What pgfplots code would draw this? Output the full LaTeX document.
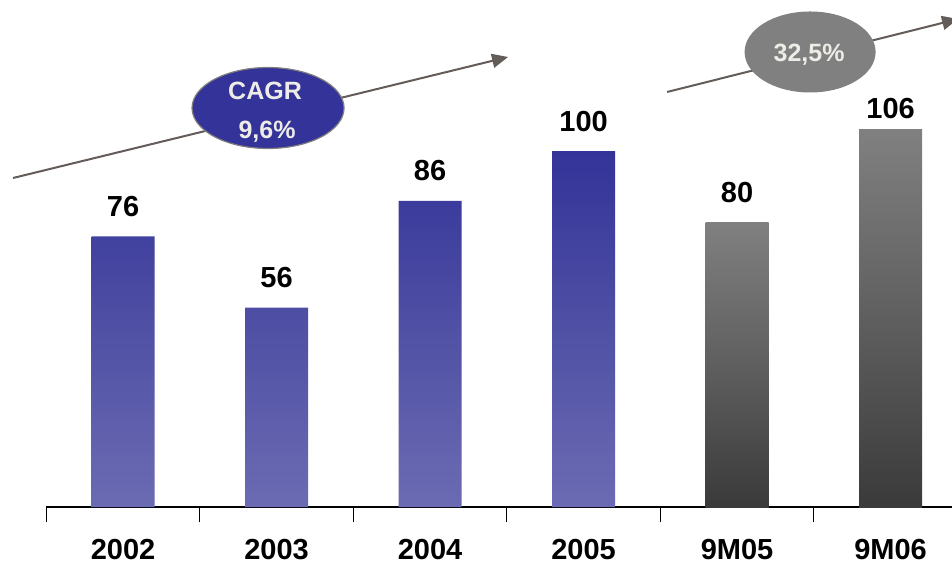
\documentclass[border=0pt]{standalone}
\usepackage{pgfplots}
\pgfplotsset{compat=1.18}
\usepackage{fontspec}
\setmainfont{Liberation Sans}
\usetikzlibrary{arrows.meta}
\definecolor{bluetop}{RGB}{51,51,153}
\definecolor{bluemid}{RGB}{80,80,165}
\definecolor{bluebot}{RGB}{107,107,179}
\definecolor{graytop}{RGB}{128,128,128}
\definecolor{graymid}{RGB}{95,95,95}
\definecolor{graybot}{RGB}{58,58,58}
\definecolor{arrowc}{RGB}{100,92,88}
\definecolor{ltxt}{RGB}{238,236,230}
\begin{document}
\begin{tikzpicture}
\begin{axis}[
  x=76.75pt, y=1.78pt,
  xmin=-0.5, xmax=5.4, ymin=0, ymax=142.42,
  axis x line=bottom, axis y line=none,
  axis line style={-, line width=1pt, black},
  xtick={-0.5,0.5,1.5,2.5,3.5,4.5},
  xticklabels={},
  tick align=outside,
  major tick length=7.5pt,
  every tick/.style={black, line width=0.6pt},
  extra x ticks={0,1,2,3,4,5},
  extra x tick labels={2002,2003,2004,2005,9M05,9M06},
  extra x tick style={major tick length=0pt, xticklabel style={anchor=base, yshift=-26pt}},
  ticklabel style={font=\fontsize{14.5}{16}\selectfont\bfseries},
  clip=false,
  /pgf/number format/assume math mode=true,
]
\addplot[ybar, bar width=31.5pt, draw=none, top color=bluetop, bottom color=bluebot, middle color=bluemid,
  nodes near coords, every node near coord/.style={font=\fontsize{14.5}{16}\selectfont\bfseries, text=black, anchor=base, yshift=10pt}]
  coordinates {(0,76) (1,56) (2,86) (3,100)};
\addplot[ybar, bar width=31.5pt, draw=none, top color=graytop, bottom color=graybot, middle color=graymid,
  nodes near coords, every node near coord/.style={font=\fontsize{14.5}{16}\selectfont\bfseries, text=black, anchor=base, yshift=10pt}]
  coordinates {(4,80)};
\addplot[ybar, bar width=31.5pt, draw=none, top color=graytop, bottom color=graybot, middle color=graymid,
  nodes near coords, every node near coord/.style={font=\fontsize{14.5}{16}\selectfont\bfseries, text=black, anchor=base, yshift=5.5pt}]
  coordinates {(5,106)};
\coordinate (O) at (axis cs:-0.8013,142.42);
\coordinate (E) at (axis cs:5.4,-16.57);
\end{axis}
\pgfresetboundingbox
\path[use as bounding box] (O) rectangle (E);
\begin{scope}[shift={(O)}, x=0.5pt, y=-0.5pt]
  \draw[arrowc, line width=1pt, -{Triangle[length=8pt,width=7pt]}] (13,178) -- (508,57);
  \draw[arrowc, line width=1pt, -{Triangle[length=8pt,width=7pt]}] (667,92) -- (958,19);
  \draw[fill=bluetop, draw=graytop, line width=0.6pt] (268,108) ellipse [x radius=38pt, y radius=20.25pt];
  \draw[fill=graytop, draw=graytop, line width=0.5pt] (810,52) ellipse [x radius=32.5pt, y radius=20pt];
  \node[anchor=base, text=ltxt, font=\fontsize{12.5}{14}\selectfont\bfseries, inner sep=0pt] at (265,100) {CAGR};
  \node[anchor=base, text=ltxt, font=\fontsize{12.5}{14}\selectfont\bfseries, inner sep=0pt] at (267,138) {9,6\%};
  \node[anchor=base, text=ltxt, font=\fontsize{12.5}{14}\selectfont\bfseries, inner sep=0pt] at (809,62) {32,5\%};
\end{scope}
\end{tikzpicture}
\end{document}
